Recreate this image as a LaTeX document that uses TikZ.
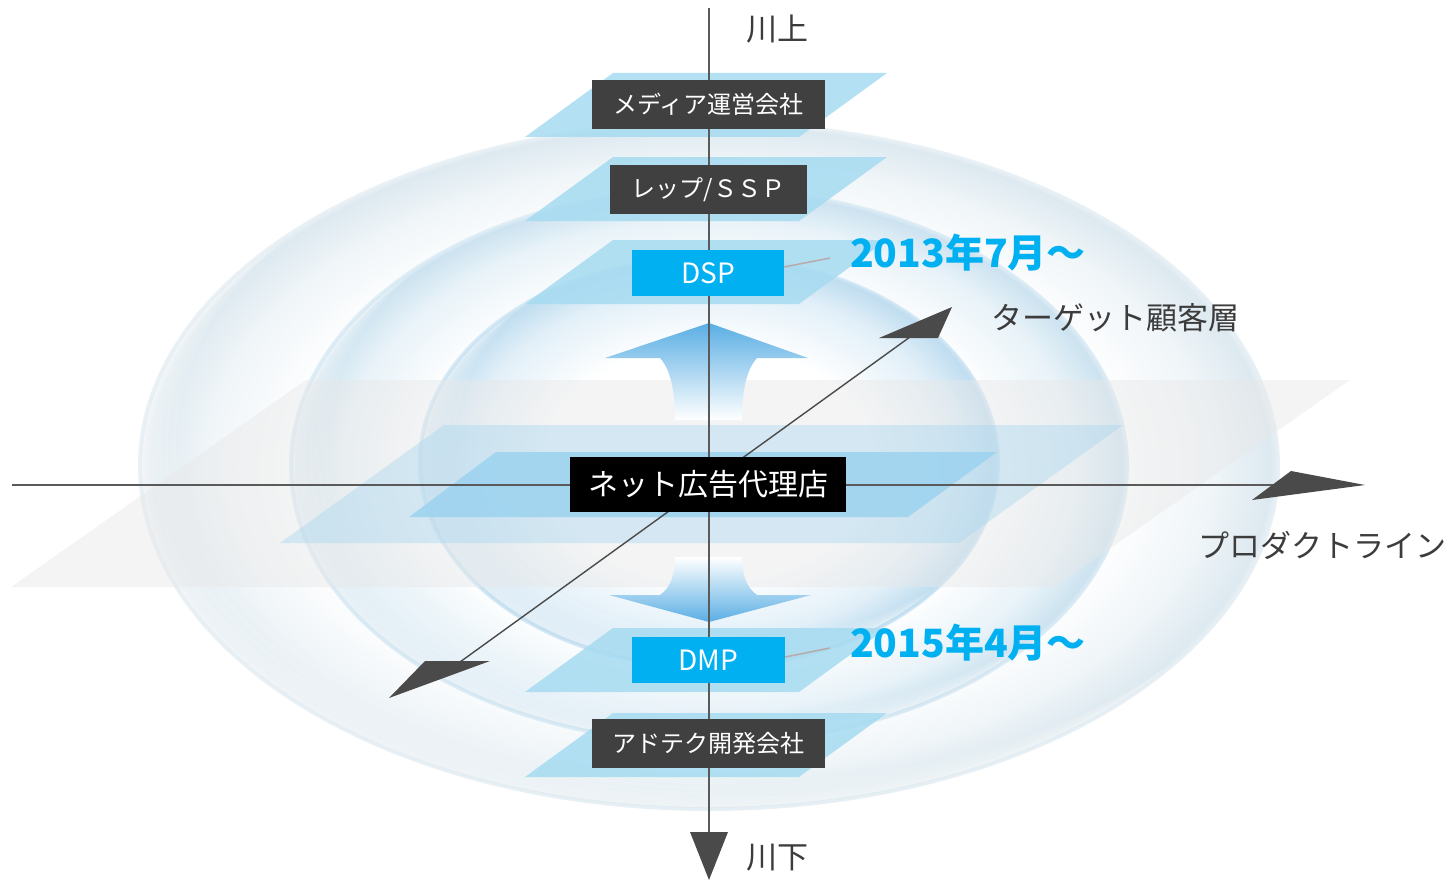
\documentclass[tikz,border=0pt]{standalone}
\usepackage{fontspec}
\setmainfont{Noto Sans CJK JP}
\usetikzlibrary{calc}
\definecolor{axisgray}{HTML}{5A5A5A}
\definecolor{headgray}{HTML}{4A4A4A}
\definecolor{boxgray}{HTML}{404040}
\definecolor{cyanbox}{HTML}{00B0F0}
\definecolor{plateblue}{HTML}{A6DBF1}
\definecolor{centerblue}{HTML}{9DD3EF}
\definecolor{midplate}{HTML}{A5D5EF}
\definecolor{grayplate}{HTML}{E8E8E8}
\definecolor{arrowblue}{HTML}{5AAEE4}
\definecolor{rimA}{HTML}{DDE9F0}
\definecolor{rimB}{HTML}{CCE3F0}
\definecolor{rimC}{HTML}{BFDDF0}
\definecolor{linkgray}{HTML}{B8AAAA}
\definecolor{labelgray}{HTML}{3C3C3C}
\pgfdeclareradialshading{ringouter}{\pgfpoint{0bp}{0bp}}{color(0bp)=(white); color(18bp)=(white); color(22bp)=(rimA!45!white); color(24.6bp)=(rimA); color(25bp)=(rimA!60!white); color(50bp)=(white)}
\pgfdeclareradialshading{ringmiddle}{\pgfpoint{0bp}{0bp}}{color(0bp)=(white); color(17bp)=(white); color(22bp)=(rimB!45!white); color(24.6bp)=(rimB); color(25bp)=(rimB!60!white); color(50bp)=(white)}
\pgfdeclareradialshading{ringinner}{\pgfpoint{0bp}{0bp}}{color(0bp)=(white); color(14bp)=(white); color(21bp)=(rimC!45!white); color(24.6bp)=(rimC); color(25bp)=(rimC!60!white); color(50bp)=(white)}
\newcommand\ringglint[4]{%
  \begin{scope}
    \clip (#1,#2) ellipse [x radius=#3pt-4pt, y radius=#4pt-4pt];
    \foreach \gs in {4,8,13,19,26,34}{
      \fill[white, opacity=0.13, even odd rule] (#1,#2) ellipse [x radius=#3pt-4pt, y radius=#4pt-4pt] (#1+\gs,#2-0.75*\gs) ellipse [x radius=#3pt-4pt, y radius=#4pt-4pt];
    }
  \end{scope}}
\tikzset{
  plate/.style={fill=plateblue, fill opacity=0.85},
  axisline/.style={draw=axisgray, line width=1.8pt},
  diagline/.style={draw=headgray, line width=1.4pt},
  headfill/.style={fill=headgray},
  darkbox/.style={fill=boxgray, text=white, inner sep=0pt, font=\fontsize{24}{28}\selectfont},
  cyanlabel/.style={fill=cyanbox, text=white, inner sep=0pt, font=\fontsize{28}{32}\selectfont},
  axislabel/.style={text=labelgray, inner sep=0pt, font=\fontsize{31}{36}\selectfont},
  yearlabel/.style={text=cyanbox, inner sep=0pt, anchor=west, font=\fontsize{39}{44}\selectfont\bfseries},
  linkline/.style={draw=linkgray, line width=1.5pt}
}
\begin{document}
\begin{tikzpicture}[x=1pt,y=-1pt]
\useasboundingbox (0,0) rectangle (1456,880);
\fill[white] (0,0) rectangle (1456,880);

% glass rings
\shade[shading=ringouter] (709,466) ellipse [x radius=571pt, y radius=345pt];
\ringglint{709}{466}{571}{345}
\shade[shading=ringmiddle] (709,466) ellipse [x radius=420pt, y radius=279pt];
\ringglint{709}{466}{420}{279}
\shade[shading=ringinner] (709,462) ellipse [x radius=291pt, y radius=207pt];
\ringglint{709}{462}{291}{207}

% large planes
\fill[grayplate, fill opacity=0.45] (11,587) -- (306,380) -- (1350,380) -- (1055,587) -- cycle;
\fill[midplate, fill opacity=0.4] (280,543) -- (444,425) -- (1123,425) -- (959,543) -- cycle;
\fill[centerblue, fill opacity=0.88] (409,517) -- (496,452) -- (997,452) -- (908,517) -- cycle;

% small plates
\foreach \yt in {73,157,240,628,713}{
  \fill[plate] (525,\yt+64) -- (613,\yt) -- (887,\yt) -- (799,\yt+64) -- cycle;
}

% up and down arrows
\shade[top color=arrowblue, middle color=arrowblue!55!white, bottom color=white]
  (709,323) -- (808,358) -- (757,358) .. controls (746,370) and (742,392) .. (742,420)
  -- (675,420) .. controls (675,392) and (671,370) .. (660,358) -- (605,358) -- cycle;
\shade[top color=white, middle color=arrowblue!50!white, bottom color=arrowblue]
  (675,557) -- (742,557) .. controls (742,576) and (747,588) .. (757,595) -- (811,595)
  -- (709,622) -- (609,595) -- (660,595) .. controls (670,588) and (675,576) .. (675,557) -- cycle;

% axes
\coordinate (vtop) at (709,8);
\coordinate (vend) at (709,836);
\coordinate (vtip) at (709,880);
\coordinate (vl) at (690,832);
\coordinate (vr) at (728,832);
\draw[axisline] (vtop) -- (vend);
\fill[headfill] (vtip) -- (vl) -- (vr) -- cycle;

\coordinate (hstart) at (12,485);
\coordinate (hend) at (1282,485);
\coordinate (htip) at (1365,485);
\coordinate (hu) at (1291,471);
\coordinate (hd) at (1252,500);
\draw[axisline] (hstart) -- (hend);
\fill[headfill] (htip) -- (hu) -- (hd) -- cycle;

\coordinate (dlow) at (460,662);
\coordinate (dhigh) at (910,337);
\draw[diagline] (dlow) -- (dhigh);
\coordinate (dhtip) at (952,307);
\coordinate (dhl) at (879,338);
\coordinate (dhr) at (938,338);
\fill[headfill] (dhtip) -- (dhl) -- (dhr) -- cycle;
\coordinate (dltip) at (389,698);
\coordinate (dll) at (425,661);
\coordinate (dlr) at (490,661);
\fill[headfill] (dltip) -- (dll) -- (dlr) -- cycle;

% boxes
\node[darkbox, minimum width=233pt, minimum height=49pt] (media) at (708.5,104.5) {メディア運営会社};
\node[darkbox, minimum width=197pt, minimum height=49pt] (rep) at (708.5,189.5) {レップ/ＳＳＰ};
\node[cyanlabel, minimum width=152pt, minimum height=46pt] (dsp) at (708,273) {DSP};
\node[fill=black, text=white, inner sep=0pt, minimum width=276pt, minimum height=55pt, font=\fontsize{30}{34}\selectfont] (agency) at (708,484.5) {ネット広告代理店};
\node[cyanlabel, minimum width=153pt, minimum height=46pt] (dmp) at (708.5,660) {DMP};
\node[darkbox, minimum width=233pt, minimum height=49pt] (adtech) at (708.5,743.5) {アドテク開発会社};

% labels
\node[axislabel] (upstream) at (777,29) {川上};
\node[axislabel] (downstream) at (777,858) {川下};
\node[axislabel] (target) at (1115,318) {ターゲット顧客層};
\node[axislabel] (product) at (1322,545) {プロダクトライン};
\node[yearlabel] (y2013) at (850,253) {2013年7月～};
\node[yearlabel] (y2015) at (850,643) {2015年4月～};

\coordinate (link13) at (830,258);
\coordinate (link15) at (830,648);
\draw[linkline] ($(dsp.east)+(0,-6)$) -- (link13);
\draw[linkline] ($(dmp.east)+(0,-3)$) -- (link15);
\end{tikzpicture}
\end{document}
